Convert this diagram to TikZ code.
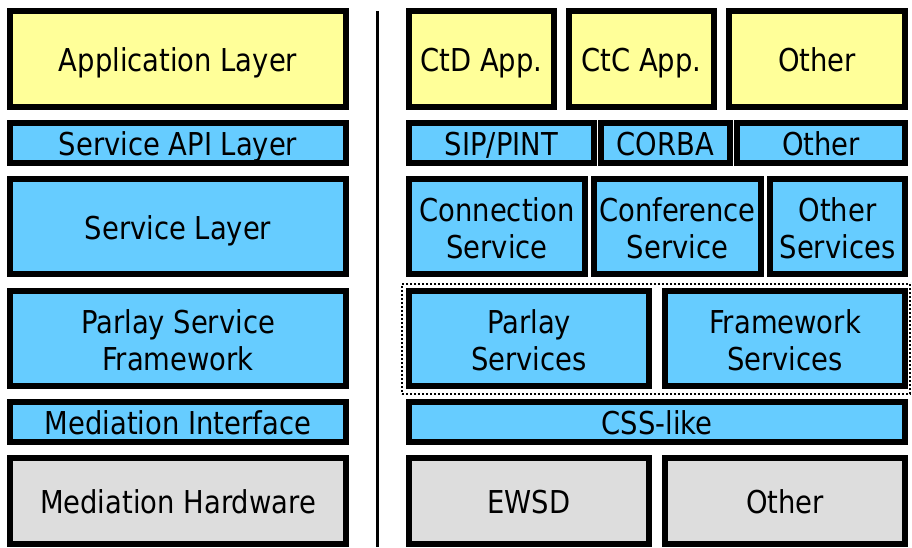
\documentclass[tikz,border=0pt]{standalone}
\usepackage{fontspec}
\setmainfont[FakeStretch=0.87]{DejaVu Sans}
\definecolor{appyellow}{HTML}{FFFF99}
\definecolor{layblue}{HTML}{66CCFF}
\definecolor{hwgray}{HTML}{DDDDDD}
\tikzset{
  box/.style={draw=black, line width=6pt, rectangle, inner sep=0pt, outer sep=0pt,
    align=center, font=\fontsize{31.5}{37}\selectfont, text height=25pt, text depth=0pt},
  twoline/.style={text height=64pt, text depth=0pt},
  yel/.style={box, fill=appyellow},
  blu/.style={box, fill=layblue},
  gry/.style={box, fill=hwgray},
  grp/.style={draw=black, line width=2pt, dash pattern=on 2pt off 2pt},
  divider/.style={draw=black, line width=3pt}
}
\begin{document}
\begin{tikzpicture}[x=1pt, y=-1pt]
\useasboundingbox (0,0) rectangle (912,548);
% left column
\node[yel, minimum width=336pt, minimum height=96pt] (app) at (178,59) {Application Layer};
\node[blu, minimum width=336pt, minimum height=40pt] (api) at (178,143) {Service API Layer};
\node[blu, minimum width=336pt, minimum height=95pt] (svc) at (178,226.5) {Service Layer};
\node[blu, twoline, minimum width=336pt, minimum height=95pt] (psf) at (178,338.5) {Parlay Service\\Framework};
\node[blu, minimum width=336pt, minimum height=40pt] (mif) at (178,422) {Mediation Interface};
\node[gry, minimum width=336pt, minimum height=86pt] (mhw) at (178,501) {Mediation Hardware};
% divider
\coordinate (dtop) at (377.3,11);
\coordinate (dbot) at (377.3,547);
\draw[divider] (dtop) -- (dbot);
% right column row 1
\node[yel, minimum width=145pt, minimum height=96pt] (ctd) at (481.5,59) {CtD App.};
\node[yel, minimum width=145pt, minimum height=96pt] (ctc) at (641.5,59) {CtC App.};
\node[yel, minimum width=176pt, minimum height=96pt] (oapp) at (817,59) {Other};
% row 2
\node[blu, minimum width=185pt, minimum height=40pt] (sip) at (501.5,143) {SIP/PINT};
\node[blu, minimum width=129pt, minimum height=40pt] (corba) at (665.5,143) {CORBA};
\node[blu, minimum width=168pt, minimum height=40pt] (oapi) at (821,143) {Other};
% row 3
\node[blu, twoline, minimum width=176pt, minimum height=95pt] (conn) at (497,226.5) {Connection\\Service};
\node[blu, twoline, minimum width=167pt, minimum height=95pt] (conf) at (677.5,226.5) {Conference\\Service};
\node[blu, twoline, minimum width=135pt, minimum height=95pt] (osvc) at (837.5,226.5) {Other\\Services};
% row 4
\node[grp, minimum width=508pt, minimum height=110pt, inner sep=0pt] (grpbox) at (656,339) {};
\node[blu, twoline, minimum width=240pt, minimum height=95pt] (pls) at (529,338.5) {Parlay\\Services};
\node[blu, twoline, minimum width=240pt, minimum height=95pt] (fws) at (785,338.5) {Framework\\Services};
% row 5
\node[blu, minimum width=496pt, minimum height=40pt] (css) at (657,422) {CSS-like};
% row 6
\node[gry, minimum width=240pt, minimum height=86pt] (ewsd) at (529,501) {EWSD};
\node[gry, minimum width=240pt, minimum height=86pt] (ohw) at (785,501) {Other};
\end{tikzpicture}
\end{document}
